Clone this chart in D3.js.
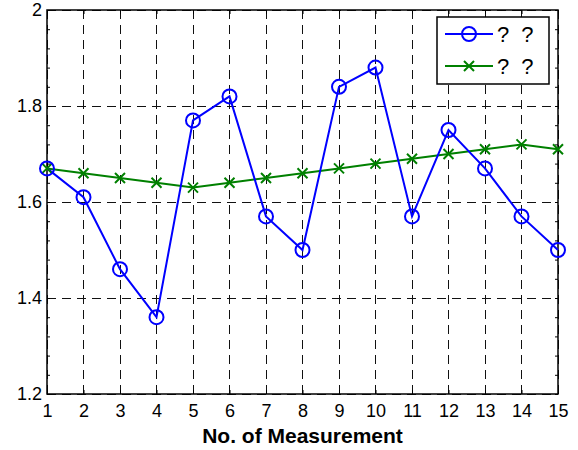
<!DOCTYPE html>
<html>
<head>
<meta charset="utf-8">
<script src="https://cdn.jsdelivr.net/npm/d3@7"></script>
<style>
  body { margin: 0; background: #fff; }
  text { font-family: "Liberation Sans", Arial, sans-serif; }
</style>
</head>
<body>
<div id="chart"></div>
<script>
// data
const measurements = d3.range(1, 16);
const seriesBlue = [1.67, 1.61, 1.46, 1.36, 1.77, 1.82, 1.57, 1.50, 1.84, 1.88, 1.57, 1.75, 1.67, 1.57, 1.50];
const seriesGreen = [1.67, 1.66, 1.65, 1.64, 1.63, 1.64, 1.65, 1.66, 1.67, 1.68, 1.69, 1.70, 1.71, 1.72, 1.71];
const yTicks = [1.2, 1.4, 1.6, 1.8, 2];
const legendLabels = ["? ?", "? ?"];

const width = 578, height = 450;
const margin = { left: 47, right: 20, top: 10, bottom: 56 };

const svg = d3.select("#chart").append("svg")
  .attr("width", width)
  .attr("height", height);

const x = d3.scaleLinear().domain([1, 15]).range([margin.left, width - margin.right]);
const y = d3.scaleLinear().domain([1.2, 2]).range([height - margin.bottom, margin.top]);

// grid
const grid = svg.append("g")
  .attr("stroke", "#111").attr("stroke-width", 1).attr("stroke-dasharray", "9,6")
  .attr("shape-rendering", "crispEdges");
grid.selectAll(".vg")
  .data(measurements)
  .enter().append("line")
  .attr("x1", d => x(d)).attr("x2", d => x(d))
  .attr("y1", y(2)).attr("y2", y(1.2));
grid.selectAll(".hg")
  .data(yTicks)
  .enter().append("line")
  .attr("x1", x(1)).attr("x2", x(15))
  .attr("y1", d => y(d)).attr("y2", d => y(d));

// box
svg.append("rect")
  .attr("x", x(1)).attr("y", y(2))
  .attr("width", x(15) - x(1)).attr("height", y(1.2) - y(2))
  .attr("fill", "none").attr("stroke", "#000").attr("stroke-width", 1.5);

// axes
const xAxis = d3.axisBottom(x).tickValues(measurements).tickFormat(d3.format("d")).tickSize(-4).tickPadding(10);
const yAxis = d3.axisLeft(y).tickValues(d3.range(1.2, 2.001, 0.04)).tickSize(-3)
  .tickFormat(d => yTicks.some(t => Math.abs(t - d) < 1e-6) ? d3.format("")(+d.toFixed(1)) : "").tickPadding(5);

const gx = svg.append("g").attr("transform", `translate(0,${y(1.2)})`).call(xAxis);
const gy = svg.append("g").attr("transform", `translate(${x(1)},0)`).call(yAxis);
svg.append("g").attr("transform", `translate(0,${y(2)})`)
  .call(d3.axisTop(x).tickValues(measurements).tickSize(-4).tickFormat(""));
svg.append("g").attr("transform", `translate(${x(15)},0)`)
  .call(d3.axisRight(y).tickValues(d3.range(1.2, 2.001, 0.04)).tickSize(-3).tickFormat(""));

svg.selectAll(".domain").remove();
svg.selectAll(".tick line").attr("stroke", "#000");
gx.selectAll("text").attr("font-size", 18).attr("fill", "#000").attr("font-family", "Liberation Sans, Arial, sans-serif");
gy.selectAll("text").attr("font-size", 18).attr("fill", "#000").attr("font-family", "Liberation Sans, Arial, sans-serif");

svg.append("text")
  .attr("x", (x(1) + x(15)) / 2)
  .attr("y", 443)
  .attr("text-anchor", "middle")
  .attr("font-size", 21)
  .attr("font-weight", "bold")
  .text("No. of Measurement");

// lines
const line = d3.line().x((d, i) => x(measurements[i])).y(d => y(d));

svg.append("path").datum(seriesGreen)
  .attr("d", line).attr("fill", "none").attr("stroke", "#008000").attr("stroke-width", 2);
svg.append("path").datum(seriesBlue)
  .attr("d", line).attr("fill", "none").attr("stroke", "#0000ff").attr("stroke-width", 2);

const crossPath = s => `M${-s},${-s}L${s},${s}M${-s},${s}L${s},${-s}`;

svg.selectAll(".gm")
  .data(seriesGreen)
  .enter().append("path")
  .attr("transform", (d, i) => `translate(${x(measurements[i])},${y(d)})`)
  .attr("d", crossPath(5))
  .attr("stroke", "#008000").attr("stroke-width", 2).attr("fill", "none");

svg.selectAll(".bm")
  .data(seriesBlue)
  .enter().append("circle")
  .attr("cx", (d, i) => x(measurements[i]))
  .attr("cy", d => y(d))
  .attr("r", 7)
  .attr("fill", "none").attr("stroke", "#0000ff").attr("stroke-width", 2);

// legend
const legend = svg.append("g");
legend.append("rect")
  .attr("x", 437).attr("y", 17).attr("width", 112).attr("height", 67)
  .attr("fill", "#fff").attr("stroke", "#000").attr("stroke-width", 1.5);

const legendRows = [
  { color: "#0000ff", marker: "circle", y: 34 },
  { color: "#008000", marker: "cross", y: 66 }
];
legendRows.forEach((r, i) => {
  legend.append("line")
    .attr("x1", 445).attr("x2", 493).attr("y1", r.y).attr("y2", r.y)
    .attr("stroke", r.color).attr("stroke-width", 2);
  if (r.marker === "circle") {
    legend.append("circle").attr("cx", 469).attr("cy", r.y).attr("r", 7)
      .attr("fill", "none").attr("stroke", r.color).attr("stroke-width", 2);
  } else {
    legend.append("path").attr("transform", `translate(469,${r.y})`).attr("d", crossPath(5))
      .attr("stroke", r.color).attr("stroke-width", 2);
  }
  legend.append("text")
    .attr("x", 497).attr("y", r.y + 8)
    .attr("font-size", 22)
    .attr("word-spacing", 6)
    .text(legendLabels[i]);
});
</script>
</body>
</html>
